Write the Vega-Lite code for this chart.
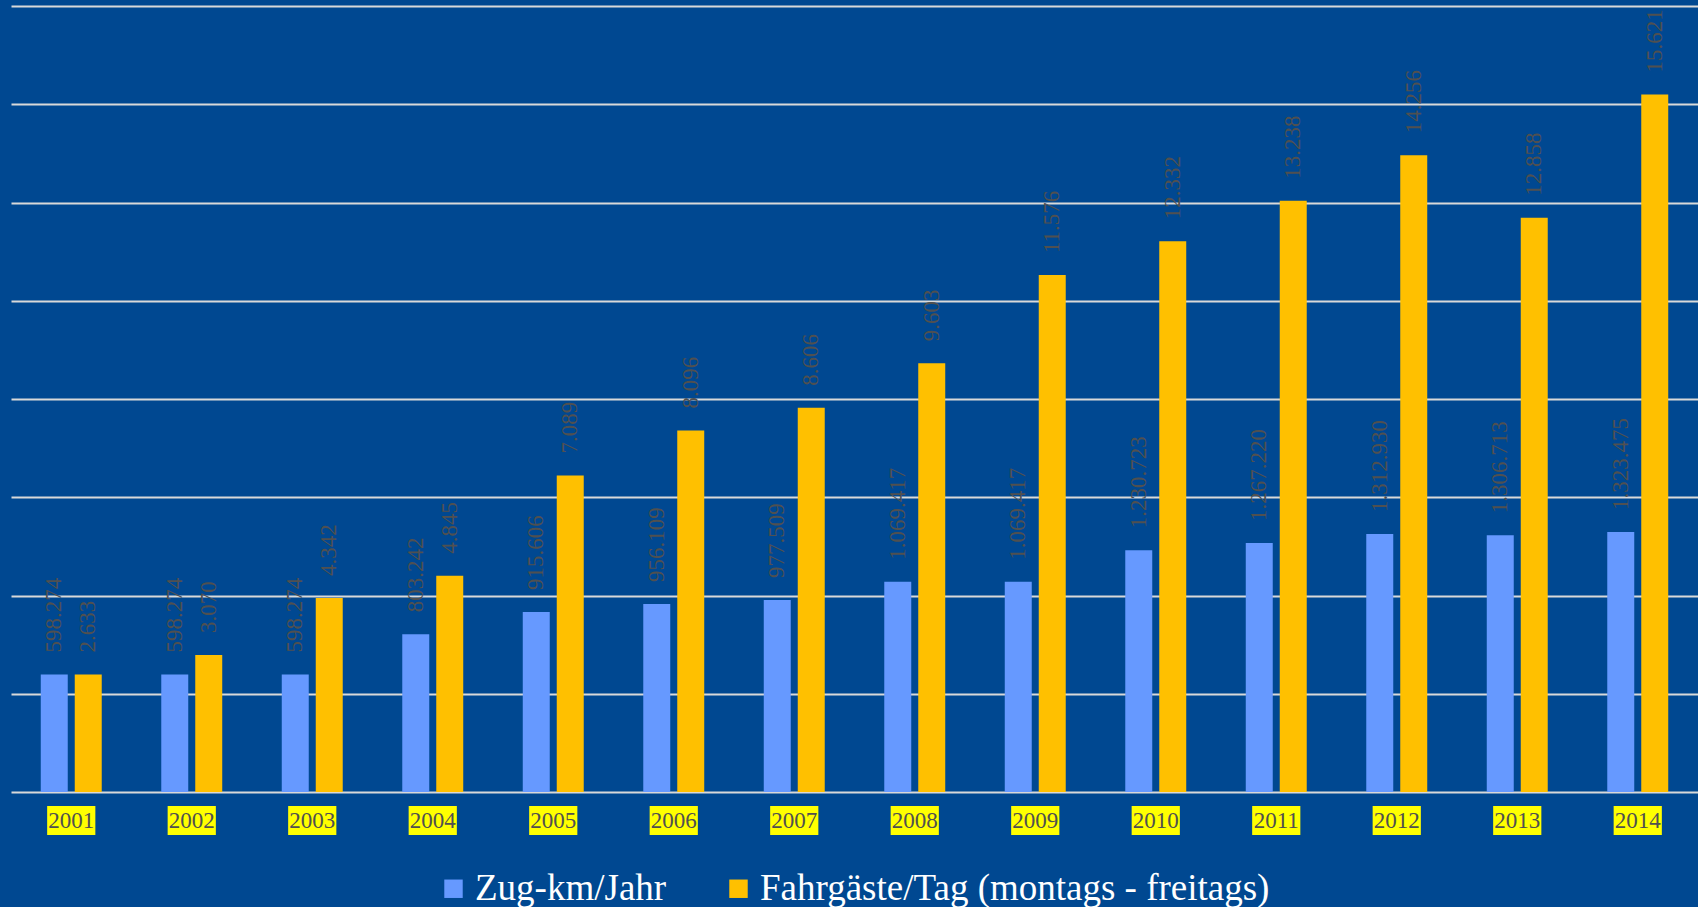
{
  "$schema": "https://vega.github.io/schema/vega-lite/v6.json",
  "background": "#004891",
  "padding": {"left": 11, "top": 6, "right": 0, "bottom": 0},
  "config": {
    "view": {"stroke": null},
    "font": "Liberation Serif",
    "locale": {"number": {"decimal": ",", "thousands": ".", "grouping": [3], "currency": ["", " €"]}}
  },
  "data": {
    "values": [
      {"year": "2001", "series": "Zug-km/Jahr", "value": 598274},
      {"year": "2002", "series": "Zug-km/Jahr", "value": 598274},
      {"year": "2003", "series": "Zug-km/Jahr", "value": 598274},
      {"year": "2004", "series": "Zug-km/Jahr", "value": 803242},
      {"year": "2005", "series": "Zug-km/Jahr", "value": 915606},
      {"year": "2006", "series": "Zug-km/Jahr", "value": 956109},
      {"year": "2007", "series": "Zug-km/Jahr", "value": 977509},
      {"year": "2008", "series": "Zug-km/Jahr", "value": 1069417},
      {"year": "2009", "series": "Zug-km/Jahr", "value": 1069417},
      {"year": "2010", "series": "Zug-km/Jahr", "value": 1230723},
      {"year": "2011", "series": "Zug-km/Jahr", "value": 1267220},
      {"year": "2012", "series": "Zug-km/Jahr", "value": 1312930},
      {"year": "2013", "series": "Zug-km/Jahr", "value": 1306713},
      {"year": "2014", "series": "Zug-km/Jahr", "value": 1323475},
      {"year": "2001", "series": "Fahrgäste/Tag (montags - freitags)", "value": 2633},
      {"year": "2002", "series": "Fahrgäste/Tag (montags - freitags)", "value": 3070},
      {"year": "2003", "series": "Fahrgäste/Tag (montags - freitags)", "value": 4342},
      {"year": "2004", "series": "Fahrgäste/Tag (montags - freitags)", "value": 4845},
      {"year": "2005", "series": "Fahrgäste/Tag (montags - freitags)", "value": 7089},
      {"year": "2006", "series": "Fahrgäste/Tag (montags - freitags)", "value": 8096},
      {"year": "2007", "series": "Fahrgäste/Tag (montags - freitags)", "value": 8606},
      {"year": "2008", "series": "Fahrgäste/Tag (montags - freitags)", "value": 9603},
      {"year": "2009", "series": "Fahrgäste/Tag (montags - freitags)", "value": 11576},
      {"year": "2010", "series": "Fahrgäste/Tag (montags - freitags)", "value": 12332},
      {"year": "2011", "series": "Fahrgäste/Tag (montags - freitags)", "value": 13238},
      {"year": "2012", "series": "Fahrgäste/Tag (montags - freitags)", "value": 14256},
      {"year": "2013", "series": "Fahrgäste/Tag (montags - freitags)", "value": 12858},
      {"year": "2014", "series": "Fahrgäste/Tag (montags - freitags)", "value": 15621}
    ]
  },
  "vconcat": [
    {
      "width": 1687,
      "height": 786,
      "layer": [
        {
          "transform": [{"filter": "datum.series === 'Zug-km/Jahr'"}],
          "encoding": {
            "x": {"field": "year", "type": "nominal", "axis": null, "scale": {"paddingInner": 0.494, "paddingOuter": 0.247}},
            "xOffset": {"field": "series", "type": "nominal", "sort": null, "scale": {"domain": ["Zug-km/Jahr", "Fahrgäste/Tag (montags - freitags)"], "paddingInner": 0.206, "paddingOuter": 0}},
            "y": {"field": "value", "type": "quantitative", "scale": {"domain": [0, 4000000], "nice": false},
              "axis": {"grid": true, "gridColor": "#D9D9D9", "gridWidth": 2, "labels": false, "ticks": false, "domain": false, "title": null, "minExtent": 0, "maxExtent": 0,
                "values": [0, 500000, 1000000, 1500000, 2000000, 2500000, 3000000, 3500000, 4000000]}}
          },
          "layer": [
            {
              "mark": {"type": "bar"},
              "encoding": {
                "color": {"field": "series", "type": "nominal",
                  "scale": {"domain": ["Zug-km/Jahr", "Fahrgäste/Tag (montags - freitags)"], "range": ["#6699FF", "#FFC000"]},
                  "legend": {"orient": "none", "legendX": 424, "legendY": 864, "direction": "horizontal", "title": null, "symbolType": "square", "symbolSize": 340, "symbolStrokeWidth": 0, "labelFont": "Liberation Serif", "labelFontSize": 37, "labelColor": "#FFFFFF", "labelOffset": 3, "columnPadding": 53, "labelLimit": 900}}
              }
            },
            {
              "mark": {"type": "text", "angle": 270, "align": "left", "baseline": "middle", "dx": 22, "fontSize": 23, "color": "#505050", "font": "Liberation Serif"},
              "encoding": {"text": {"field": "value", "type": "quantitative", "format": ",d"}}
            }
          ]
        },
        {
          "transform": [{"filter": "datum.series !== 'Zug-km/Jahr'"}],
          "encoding": {
            "x": {"field": "year", "type": "nominal", "axis": null, "scale": {"paddingInner": 0.494, "paddingOuter": 0.247}},
            "xOffset": {"field": "series", "type": "nominal", "sort": null, "scale": {"domain": ["Zug-km/Jahr", "Fahrgäste/Tag (montags - freitags)"], "paddingInner": 0.206, "paddingOuter": 0}},
            "y": {"field": "value", "type": "quantitative", "scale": {"domain": [0, 17600], "nice": false}, "axis": null}
          },
          "layer": [
            {
              "mark": {"type": "bar"},
              "encoding": {"color": {"field": "series", "type": "nominal"}}
            },
            {
              "mark": {"type": "text", "angle": 270, "align": "left", "baseline": "middle", "dx": 22, "fontSize": 23, "color": "#505050", "font": "Liberation Serif"},
              "encoding": {"text": {"field": "value", "type": "quantitative", "format": ",d"}}
            }
          ]
        }
      ],
      "resolve": {"scale": {"y": "independent"}}
    },
    {
      "width": 1687,
      "height": 29,
      "transform": [{"filter": "datum.series === 'Zug-km/Jahr'"}],
      "encoding": {
        "x": {"field": "year", "type": "nominal", "axis": null, "scale": {"paddingInner": 0.6, "paddingOuter": 0.3}}
      },
      "layer": [
        {"mark": {"type": "rect", "fill": "#FFFF00"}, "encoding": {}},
        {"mark": {"type": "text", "fontSize": 23, "color": "#505050", "font": "Liberation Serif", "baseline": "middle"}, "encoding": {"text": {"field": "year"}}}
      ]
    }
  ],
  "spacing": 14,
  "resolve": {"scale": {"x": "independent"}}
}
